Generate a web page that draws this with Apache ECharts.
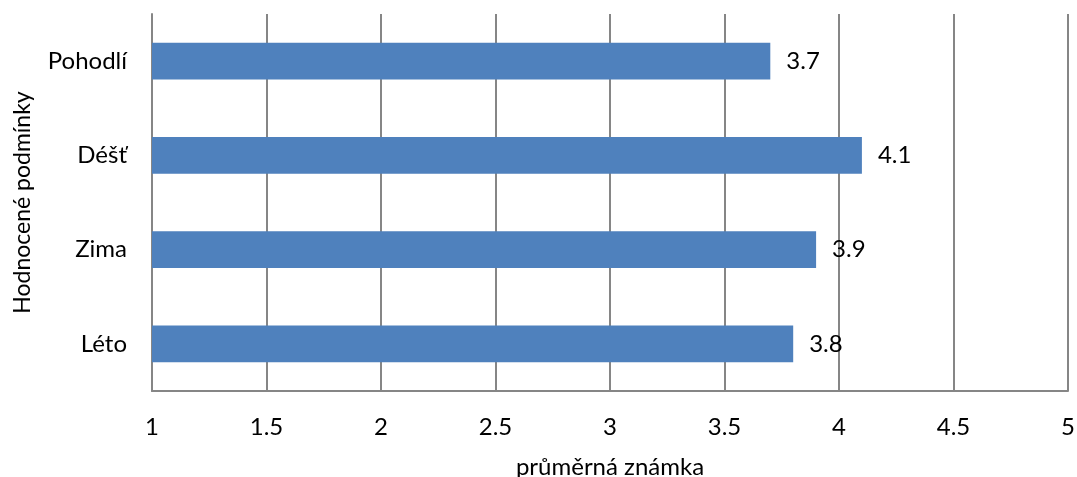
<!DOCTYPE html>
<html><head><meta charset="utf-8">
<script src="https://cdn.jsdelivr.net/npm/echarts@6/dist/echarts.min.js"></script>
<style>html,body{margin:0;padding:0;background:#fff}#c{width:1077px;height:477px}</style>
</head><body><div id="c"></div>
<script>
const categories = ['Léto', 'Zima', 'Déšť', 'Pohodlí'];
const values = [3.8, 3.9, 4.1, 3.7];
const xTicks = [1, 1.5, 2, 2.5, 3, 3.5, 4, 4.5, 5];
const xAxisName = 'průměrná známka';
const yAxisName = 'Hodnocené podmínky';

const font = 'Lato, "Open Sans", sans-serif';
const fs = 24;
const chart = echarts.init(document.getElementById('c'));
chart.setOption({
  animation: false,
  textStyle: {fontFamily: font},
  grid: {left: 152, right: 9, top: 14, bottom: 86, containLabel: false, outerBoundsMode: 'none'},
  xAxis: {
    type: 'value', min: 1, max: 5, interval: 0.5,
    name: xAxisName, nameLocation: 'middle', nameGap: 64,
    nameTextStyle: {fontSize: fs, color: '#000', fontFamily: font},
    axisLine: {show: true, lineStyle: {color: '#868686', width: 2}},
    axisTick: {show: false},
    splitLine: {show: true, lineStyle: {color: '#868686', width: 2}},
    axisLabel: {fontSize: fs, color: '#000', margin: 24, fontFamily: font,
      formatter: v => xTicks.includes(+v.toFixed(1)) ? String(+v.toFixed(1)) : ''}
  },
  yAxis: {
    type: 'category', data: categories,
    name: yAxisName, nameLocation: 'middle', nameGap: 118, nameRotate: 90,
    nameTextStyle: {fontSize: 23, color: '#000', fontFamily: font},
    axisLine: {show: true, lineStyle: {color: '#868686', width: 2}},
    axisTick: {show: false},
    splitLine: {show: false},
    axisLabel: {fontSize: fs, color: '#000', margin: 25, fontFamily: font}
  },
  series: [{
    type: 'bar', data: values, barWidth: '39%',
    itemStyle: {color: '#4F81BD'},
    label: {show: true, position: 'right', distance: 16, fontSize: fs, color: '#000', fontFamily: font}
  }]
});
</script></body></html>
